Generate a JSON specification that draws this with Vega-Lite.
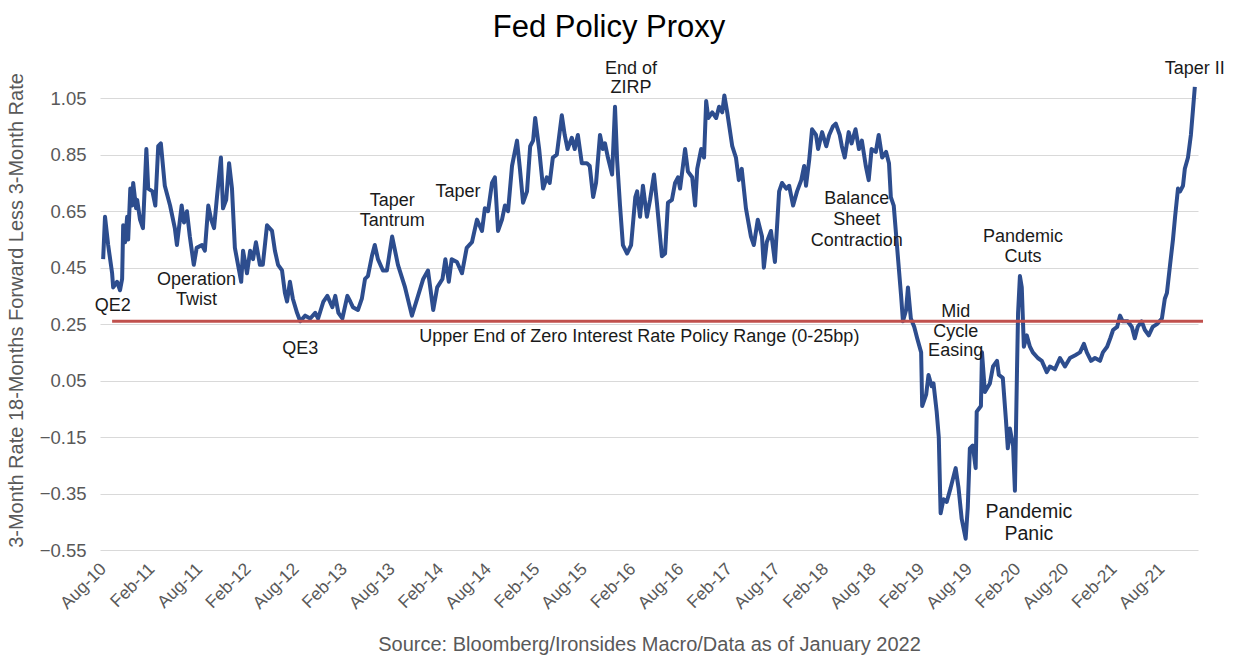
{
  "$schema": "https://vega.github.io/schema/vega-lite/v6.json",
  "width": 1098,
  "height": 480,
  "autosize": {"type": "none"},
  "padding": {"left": 100, "top": 70, "right": 36, "bottom": 109},
  "background": "white",
  "config": {"font": "Liberation Sans", "view": {"stroke": null}},
  "title": {"text": "Fed Policy Proxy", "font": "Liberation Sans", "fontSize": 31, "fontWeight": "normal", "color": "#000000", "anchor": "middle", "frame": "group", "dx": -40, "dy": 32, "offset": 24, "baseline": "alphabetic"},
  "datasets": {
    "fed": [
      {"date": "2010-08-01", "value": 0.48}, {"date": "2010-08-08", "value": 0.63}, {"date": "2010-08-20", "value": 0.53}, {"date": "2010-09-04", "value": 0.43}, {"date": "2010-09-08", "value": 0.38}, {"date": "2010-09-23", "value": 0.40}, {"date": "2010-10-04", "value": 0.37}, {"date": "2010-10-12", "value": 0.41}, {"date": "2010-10-16", "value": 0.60}, {"date": "2010-10-23", "value": 0.54}, {"date": "2010-10-31", "value": 0.63}, {"date": "2010-11-04", "value": 0.55}, {"date": "2010-11-12", "value": 0.73}, {"date": "2010-11-19", "value": 0.67}, {"date": "2010-11-23", "value": 0.75}, {"date": "2010-12-04", "value": 0.66}, {"date": "2010-12-08", "value": 0.69}, {"date": "2010-12-19", "value": 0.62}, {"date": "2010-12-30", "value": 0.59},
      {"date": "2011-01-12", "value": 0.87}, {"date": "2011-01-19", "value": 0.73}, {"date": "2011-02-04", "value": 0.72}, {"date": "2011-02-15", "value": 0.67}, {"date": "2011-02-26", "value": 0.88}, {"date": "2011-03-08", "value": 0.89}, {"date": "2011-03-23", "value": 0.74}, {"date": "2011-04-12", "value": 0.67}, {"date": "2011-04-30", "value": 0.59}, {"date": "2011-05-08", "value": 0.53}, {"date": "2011-05-26", "value": 0.67}, {"date": "2011-06-04", "value": 0.61}, {"date": "2011-06-15", "value": 0.65}, {"date": "2011-06-26", "value": 0.56}, {"date": "2011-07-11", "value": 0.46}, {"date": "2011-07-22", "value": 0.52}, {"date": "2011-08-11", "value": 0.53}, {"date": "2011-08-22", "value": 0.51}, {"date": "2011-09-04", "value": 0.67}, {"date": "2011-09-15", "value": 0.62}, {"date": "2011-09-26", "value": 0.59}, {"date": "2011-10-07", "value": 0.70}, {"date": "2011-10-22", "value": 0.84}, {"date": "2011-10-30", "value": 0.66}, {"date": "2011-11-11", "value": 0.69}, {"date": "2011-11-22", "value": 0.82}, {"date": "2011-12-03", "value": 0.73}, {"date": "2011-12-14", "value": 0.52}, {"date": "2011-12-26", "value": 0.46},
      {"date": "2012-01-07", "value": 0.40}, {"date": "2012-01-14", "value": 0.51}, {"date": "2012-01-29", "value": 0.43}, {"date": "2012-02-10", "value": 0.51}, {"date": "2012-02-21", "value": 0.48}, {"date": "2012-03-03", "value": 0.54}, {"date": "2012-03-18", "value": 0.46}, {"date": "2012-03-29", "value": 0.46}, {"date": "2012-04-14", "value": 0.60}, {"date": "2012-05-03", "value": 0.58}, {"date": "2012-05-14", "value": 0.51}, {"date": "2012-05-26", "value": 0.46}, {"date": "2012-06-10", "value": 0.44}, {"date": "2012-06-21", "value": 0.36}, {"date": "2012-06-29", "value": 0.33}, {"date": "2012-07-10", "value": 0.40}, {"date": "2012-07-21", "value": 0.34}, {"date": "2012-08-06", "value": 0.29}, {"date": "2012-08-18", "value": 0.26}, {"date": "2012-09-06", "value": 0.28}, {"date": "2012-09-25", "value": 0.27}, {"date": "2012-10-14", "value": 0.29}, {"date": "2012-10-25", "value": 0.27}, {"date": "2012-11-14", "value": 0.33}, {"date": "2012-11-29", "value": 0.35}, {"date": "2012-12-18", "value": 0.31}, {"date": "2012-12-29", "value": 0.35},
      {"date": "2013-01-10", "value": 0.29}, {"date": "2013-01-25", "value": 0.27}, {"date": "2013-02-13", "value": 0.35}, {"date": "2013-02-24", "value": 0.33}, {"date": "2013-03-06", "value": 0.31}, {"date": "2013-03-25", "value": 0.30}, {"date": "2013-04-09", "value": 0.34}, {"date": "2013-04-21", "value": 0.41}, {"date": "2013-05-02", "value": 0.42}, {"date": "2013-05-17", "value": 0.49}, {"date": "2013-05-28", "value": 0.53}, {"date": "2013-06-09", "value": 0.48}, {"date": "2013-06-28", "value": 0.44}, {"date": "2013-07-13", "value": 0.44}, {"date": "2013-08-02", "value": 0.56}, {"date": "2013-08-24", "value": 0.46}, {"date": "2013-09-20", "value": 0.38}, {"date": "2013-10-16", "value": 0.28}, {"date": "2013-11-05", "value": 0.34}, {"date": "2013-11-28", "value": 0.41}, {"date": "2013-12-16", "value": 0.44},
      {"date": "2014-01-05", "value": 0.30}, {"date": "2014-01-20", "value": 0.38}, {"date": "2014-02-09", "value": 0.41}, {"date": "2014-02-20", "value": 0.48}, {"date": "2014-03-05", "value": 0.40}, {"date": "2014-03-16", "value": 0.48}, {"date": "2014-04-05", "value": 0.47}, {"date": "2014-04-24", "value": 0.43}, {"date": "2014-05-12", "value": 0.52}, {"date": "2014-06-01", "value": 0.54}, {"date": "2014-06-20", "value": 0.62}, {"date": "2014-07-09", "value": 0.58}, {"date": "2014-07-20", "value": 0.66}, {"date": "2014-08-01", "value": 0.65}, {"date": "2014-08-16", "value": 0.75}, {"date": "2014-08-27", "value": 0.77}, {"date": "2014-09-08", "value": 0.58}, {"date": "2014-09-23", "value": 0.62}, {"date": "2014-10-04", "value": 0.67}, {"date": "2014-10-16", "value": 0.65}, {"date": "2014-10-31", "value": 0.81}, {"date": "2014-11-19", "value": 0.90}, {"date": "2014-11-30", "value": 0.80}, {"date": "2014-12-12", "value": 0.68}, {"date": "2014-12-27", "value": 0.72},
      {"date": "2015-01-08", "value": 0.88}, {"date": "2015-01-19", "value": 0.90}, {"date": "2015-01-27", "value": 0.98}, {"date": "2015-02-11", "value": 0.87}, {"date": "2015-02-26", "value": 0.73}, {"date": "2015-03-12", "value": 0.77}, {"date": "2015-03-23", "value": 0.75}, {"date": "2015-04-04", "value": 0.84}, {"date": "2015-04-19", "value": 0.85}, {"date": "2015-05-08", "value": 0.99}, {"date": "2015-05-19", "value": 0.92}, {"date": "2015-05-30", "value": 0.87}, {"date": "2015-06-15", "value": 0.91}, {"date": "2015-06-26", "value": 0.87}, {"date": "2015-07-08", "value": 0.92}, {"date": "2015-07-23", "value": 0.82}, {"date": "2015-08-11", "value": 0.82}, {"date": "2015-08-22", "value": 0.81}, {"date": "2015-09-04", "value": 0.70}, {"date": "2015-09-15", "value": 0.75}, {"date": "2015-09-30", "value": 0.92}, {"date": "2015-10-11", "value": 0.87}, {"date": "2015-10-19", "value": 0.89}, {"date": "2015-10-30", "value": 0.84}, {"date": "2015-11-15", "value": 0.78}, {"date": "2015-11-26", "value": 1.02}, {"date": "2015-12-04", "value": 0.83}, {"date": "2015-12-15", "value": 0.67}, {"date": "2015-12-26", "value": 0.53},
      {"date": "2016-01-11", "value": 0.50}, {"date": "2016-01-26", "value": 0.53}, {"date": "2016-02-11", "value": 0.70}, {"date": "2016-02-18", "value": 0.72}, {"date": "2016-02-29", "value": 0.63}, {"date": "2016-03-11", "value": 0.74}, {"date": "2016-03-26", "value": 0.63}, {"date": "2016-04-07", "value": 0.69}, {"date": "2016-04-22", "value": 0.78}, {"date": "2016-05-03", "value": 0.68}, {"date": "2016-05-22", "value": 0.49}, {"date": "2016-06-03", "value": 0.50}, {"date": "2016-06-14", "value": 0.68}, {"date": "2016-06-29", "value": 0.69}, {"date": "2016-07-11", "value": 0.75}, {"date": "2016-07-22", "value": 0.77}, {"date": "2016-07-30", "value": 0.73}, {"date": "2016-08-18", "value": 0.87}, {"date": "2016-08-29", "value": 0.79}, {"date": "2016-09-14", "value": 0.77}, {"date": "2016-09-25", "value": 0.67}, {"date": "2016-10-03", "value": 0.80}, {"date": "2016-10-18", "value": 0.87}, {"date": "2016-10-29", "value": 0.84}, {"date": "2016-11-06", "value": 1.04}, {"date": "2016-11-14", "value": 0.98}, {"date": "2016-11-29", "value": 1.00}, {"date": "2016-12-14", "value": 0.98}, {"date": "2016-12-25", "value": 1.02},
      {"date": "2017-01-06", "value": 1.00}, {"date": "2017-01-14", "value": 1.06}, {"date": "2017-01-25", "value": 1.00}, {"date": "2017-02-13", "value": 0.88}, {"date": "2017-02-27", "value": 0.84}, {"date": "2017-03-10", "value": 0.76}, {"date": "2017-03-21", "value": 0.80}, {"date": "2017-04-06", "value": 0.66}, {"date": "2017-04-25", "value": 0.56}, {"date": "2017-05-06", "value": 0.53}, {"date": "2017-05-21", "value": 0.62}, {"date": "2017-06-06", "value": 0.56}, {"date": "2017-06-13", "value": 0.45}, {"date": "2017-06-24", "value": 0.54}, {"date": "2017-07-10", "value": 0.58}, {"date": "2017-07-25", "value": 0.47}, {"date": "2017-08-10", "value": 0.72}, {"date": "2017-08-21", "value": 0.75}, {"date": "2017-09-06", "value": 0.73}, {"date": "2017-09-17", "value": 0.74}, {"date": "2017-10-02", "value": 0.67}, {"date": "2017-10-17", "value": 0.72}, {"date": "2017-11-02", "value": 0.76}, {"date": "2017-11-13", "value": 0.81}, {"date": "2017-11-20", "value": 0.74}, {"date": "2017-12-02", "value": 0.83}, {"date": "2017-12-13", "value": 0.94}, {"date": "2017-12-28", "value": 0.92},
      {"date": "2018-01-05", "value": 0.87}, {"date": "2018-01-20", "value": 0.93}, {"date": "2018-02-05", "value": 0.88}, {"date": "2018-02-16", "value": 0.92}, {"date": "2018-03-02", "value": 0.95}, {"date": "2018-03-13", "value": 0.96}, {"date": "2018-03-28", "value": 0.92}, {"date": "2018-04-05", "value": 0.88}, {"date": "2018-04-16", "value": 0.84}, {"date": "2018-05-01", "value": 0.93}, {"date": "2018-05-12", "value": 0.89}, {"date": "2018-05-27", "value": 0.94}, {"date": "2018-06-09", "value": 0.87}, {"date": "2018-06-20", "value": 0.90}, {"date": "2018-07-05", "value": 0.81}, {"date": "2018-07-16", "value": 0.76}, {"date": "2018-07-27", "value": 0.87}, {"date": "2018-08-12", "value": 0.86}, {"date": "2018-08-23", "value": 0.92}, {"date": "2018-09-05", "value": 0.84}, {"date": "2018-09-20", "value": 0.86}, {"date": "2018-10-01", "value": 0.82}, {"date": "2018-10-08", "value": 0.70}, {"date": "2018-10-19", "value": 0.67}, {"date": "2018-11-01", "value": 0.52}, {"date": "2018-11-16", "value": 0.35}, {"date": "2018-11-23", "value": 0.26}, {"date": "2018-12-05", "value": 0.30}, {"date": "2018-12-12", "value": 0.38}, {"date": "2018-12-23", "value": 0.27},
      {"date": "2019-01-05", "value": 0.24}, {"date": "2019-01-16", "value": 0.20}, {"date": "2019-01-31", "value": 0.15}, {"date": "2019-02-04", "value": -0.04}, {"date": "2019-02-19", "value": 0.00}, {"date": "2019-02-28", "value": 0.07}, {"date": "2019-03-12", "value": 0.03}, {"date": "2019-03-19", "value": 0.04}, {"date": "2019-03-31", "value": -0.06}, {"date": "2019-04-08", "value": -0.15}, {"date": "2019-04-15", "value": -0.42}, {"date": "2019-04-26", "value": -0.37}, {"date": "2019-05-08", "value": -0.38}, {"date": "2019-05-23", "value": -0.33}, {"date": "2019-06-11", "value": -0.26}, {"date": "2019-06-22", "value": -0.33}, {"date": "2019-07-04", "value": -0.44}, {"date": "2019-07-19", "value": -0.51}, {"date": "2019-07-27", "value": -0.40}, {"date": "2019-08-04", "value": -0.19}, {"date": "2019-08-15", "value": -0.18}, {"date": "2019-08-26", "value": -0.26}, {"date": "2019-08-30", "value": -0.06}, {"date": "2019-09-15", "value": -0.04}, {"date": "2019-09-19", "value": 0.15}, {"date": "2019-09-30", "value": 0.01}, {"date": "2019-10-19", "value": 0.04}, {"date": "2019-10-31", "value": 0.10}, {"date": "2019-11-15", "value": 0.12}, {"date": "2019-11-22", "value": 0.07}, {"date": "2019-12-07", "value": 0.06}, {"date": "2019-12-19", "value": -0.09}, {"date": "2019-12-26", "value": -0.19},
      {"date": "2020-01-03", "value": -0.12}, {"date": "2020-01-15", "value": -0.18}, {"date": "2020-01-22", "value": -0.34}, {"date": "2020-01-30", "value": 0.09}, {"date": "2020-02-03", "value": 0.29}, {"date": "2020-02-10", "value": 0.42}, {"date": "2020-02-17", "value": 0.38}, {"date": "2020-02-25", "value": 0.17}, {"date": "2020-03-07", "value": 0.21}, {"date": "2020-03-19", "value": 0.17}, {"date": "2020-03-30", "value": 0.15}, {"date": "2020-04-18", "value": 0.13}, {"date": "2020-05-03", "value": 0.12}, {"date": "2020-05-22", "value": 0.08}, {"date": "2020-06-03", "value": 0.10}, {"date": "2020-06-22", "value": 0.09}, {"date": "2020-07-11", "value": 0.13}, {"date": "2020-07-30", "value": 0.10}, {"date": "2020-08-18", "value": 0.13}, {"date": "2020-09-07", "value": 0.14}, {"date": "2020-09-25", "value": 0.15}, {"date": "2020-10-10", "value": 0.18}, {"date": "2020-10-21", "value": 0.15}, {"date": "2020-11-06", "value": 0.12}, {"date": "2020-11-21", "value": 0.13}, {"date": "2020-12-10", "value": 0.12}, {"date": "2020-12-21", "value": 0.15},
      {"date": "2021-01-06", "value": 0.17}, {"date": "2021-01-18", "value": 0.20}, {"date": "2021-01-29", "value": 0.23}, {"date": "2021-02-13", "value": 0.24}, {"date": "2021-02-24", "value": 0.28}, {"date": "2021-03-06", "value": 0.26}, {"date": "2021-03-25", "value": 0.26}, {"date": "2021-04-10", "value": 0.24}, {"date": "2021-04-21", "value": 0.20}, {"date": "2021-05-02", "value": 0.24}, {"date": "2021-05-17", "value": 0.26}, {"date": "2021-05-29", "value": 0.23}, {"date": "2021-06-13", "value": 0.21}, {"date": "2021-06-28", "value": 0.24}, {"date": "2021-07-14", "value": 0.25}, {"date": "2021-08-02", "value": 0.27}, {"date": "2021-08-13", "value": 0.34}, {"date": "2021-08-21", "value": 0.36}, {"date": "2021-09-02", "value": 0.46}, {"date": "2021-09-13", "value": 0.55}, {"date": "2021-09-21", "value": 0.63}, {"date": "2021-10-02", "value": 0.73}, {"date": "2021-10-10", "value": 0.72}, {"date": "2021-10-21", "value": 0.74}, {"date": "2021-10-28", "value": 0.80}, {"date": "2021-11-09", "value": 0.84}, {"date": "2021-11-20", "value": 0.92}, {"date": "2021-11-28", "value": 1.01}, {"date": "2021-12-05", "value": 1.09}
    ],
    "zirp": [{"date": "2010-09-04", "date_end": "2022-01-05", "value": 0.26}],
    "notes": [
      {"date": "2010-09-06", "value": 0.314, "label": "QE2"},
      {"date": "2011-07-21", "value": 0.406, "label": "Operation"},
      {"date": "2011-07-21", "value": 0.335, "label": "Twist"},
      {"date": "2012-08-18", "value": 0.162, "label": "QE3"},
      {"date": "2013-08-02", "value": 0.685, "label": "Taper"},
      {"date": "2013-08-02", "value": 0.615, "label": "Tantrum"},
      {"date": "2014-04-09", "value": 0.717, "label": "Taper"},
      {"date": "2016-01-26", "value": 1.153, "label": "End of"},
      {"date": "2016-01-26", "value": 1.085, "label": "ZIRP"},
      {"date": "2016-02-26", "value": 0.204, "label": "Upper End of Zero Interest Rate Policy Range (0-25bp)"},
      {"date": "2018-06-01", "value": 0.692, "label": "Balance"},
      {"date": "2018-06-01", "value": 0.618, "label": "Sheet"},
      {"date": "2018-06-01", "value": 0.544, "label": "Contraction"},
      {"date": "2019-06-11", "value": 0.292, "label": "Mid"},
      {"date": "2019-06-11", "value": 0.222, "label": "Cycle"},
      {"date": "2019-06-11", "value": 0.154, "label": "Easing"},
      {"date": "2020-02-22", "value": 0.558, "label": "Pandemic"},
      {"date": "2020-02-22", "value": 0.487, "label": "Cuts"},
      {"date": "2021-12-05", "value": 1.153, "label": "Taper II"}
    ],
    "notes_big": [
      {"date": "2020-03-15", "value": -0.415, "label": "Pandemic"},
      {"date": "2020-03-15", "value": -0.493, "label": "Panic"}
    ]
  },
  "layer": [
    {
      "data": {"name": "fed"},
      "mark": {"type": "line", "color": "#2D4D8E", "strokeWidth": 4, "strokeJoin": "round"},
      "encoding": {
        "x": {
          "field": "date", "type": "temporal",
          "scale": {"type": "utc", "domain": [{"year": 2010, "month": 7, "date": 20, "utc": true}, {"year": 2021, "month": 12, "date": 17, "utc": true}]},
          "axis": {
            "values": [
              {"year": 2010, "month": 8, "date": 1, "utc": true}, {"year": 2011, "month": 2, "date": 1, "utc": true},
              {"year": 2011, "month": 8, "date": 1, "utc": true}, {"year": 2012, "month": 2, "date": 1, "utc": true},
              {"year": 2012, "month": 8, "date": 1, "utc": true}, {"year": 2013, "month": 2, "date": 1, "utc": true},
              {"year": 2013, "month": 8, "date": 1, "utc": true}, {"year": 2014, "month": 2, "date": 1, "utc": true},
              {"year": 2014, "month": 8, "date": 1, "utc": true}, {"year": 2015, "month": 2, "date": 1, "utc": true},
              {"year": 2015, "month": 8, "date": 1, "utc": true}, {"year": 2016, "month": 2, "date": 1, "utc": true},
              {"year": 2016, "month": 8, "date": 1, "utc": true}, {"year": 2017, "month": 2, "date": 1, "utc": true},
              {"year": 2017, "month": 8, "date": 1, "utc": true}, {"year": 2018, "month": 2, "date": 1, "utc": true},
              {"year": 2018, "month": 8, "date": 1, "utc": true}, {"year": 2019, "month": 2, "date": 1, "utc": true},
              {"year": 2019, "month": 8, "date": 1, "utc": true}, {"year": 2020, "month": 2, "date": 1, "utc": true},
              {"year": 2020, "month": 8, "date": 1, "utc": true}, {"year": 2021, "month": 2, "date": 1, "utc": true},
              {"year": 2021, "month": 8, "date": 1, "utc": true}
            ],
            "format": "%b-%y",
            "labelAngle": -45,
            "labelAlign": "right",
            "labelBaseline": "middle",
            "labelFontSize": 17.5,
            "labelColor": "#595959",
            "labelPadding": 16,
            "labelOverlap": false,
            "labelFlush": false,
            "grid": false,
            "domain": false,
            "ticks": false,
            "title": "Source: Bloomberg/Ironsides Macro/Data as of January 2022",
            "titleFontSize": 20,
            "titleFontWeight": "normal",
            "titleColor": "#595959",
            "titlePadding": 23
          }
        },
        "y": {
          "field": "value", "type": "quantitative",
          "scale": {"domain": [-0.55, 1.15], "nice": false, "zero": false},
          "axis": {
            "values": [-0.55, -0.35, -0.15, 0.05, 0.25, 0.45, 0.65, 0.85, 1.05],
            "format": ".2f",
            "grid": true,
            "gridColor": "#D9D9D9",
            "gridWidth": 1,
            "domain": false,
            "ticks": false,
            "labelFontSize": 18.5,
            "labelColor": "#595959",
            "labelPadding": 14,
            "title": "3-Month Rate 18-Months Forward Less 3-Month Rate",
            "titleFontSize": 20,
            "titleFontWeight": "normal",
            "titleColor": "#595959",
            "titlePadding": 13
          }
        }
      }
    },
    {
      "data": {"name": "zirp"},
      "mark": {"type": "rule", "color": "#C0504D", "strokeWidth": 3},
      "encoding": {
        "x": {"field": "date", "type": "temporal"},
        "x2": {"field": "date_end"},
        "y": {"field": "value", "type": "quantitative"}
      }
    },
    {
      "data": {"name": "notes"},
      "mark": {"type": "text", "fontSize": 18, "color": "#1A1A1A", "align": "center", "baseline": "middle"},
      "encoding": {
        "x": {"field": "date", "type": "temporal"},
        "y": {"field": "value", "type": "quantitative"},
        "text": {"field": "label"}
      }
    },
    {
      "data": {"name": "notes_big"},
      "mark": {"type": "text", "fontSize": 19.5, "color": "#1A1A1A", "align": "center", "baseline": "middle"},
      "encoding": {
        "x": {"field": "date", "type": "temporal"},
        "y": {"field": "value", "type": "quantitative"},
        "text": {"field": "label"}
      }
    }
  ]
}
